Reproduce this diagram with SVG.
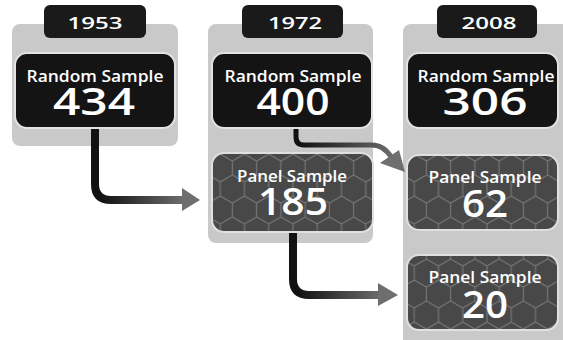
<svg xmlns="http://www.w3.org/2000/svg" width="563" height="340" viewBox="0 0 563 340">
<style>
.panel{fill:#c9c9c9}
.tab{fill:#1a1a1a}
.rbox{fill:#141414;stroke:#e2e2e2;stroke-width:2}
.pbox{stroke:#e0e0e0;stroke-width:2}
.lbl{font-family:"Open Sans","Liberation Sans",sans-serif;font-weight:600;fill:#fff;text-anchor:middle}
.yr{font-size:17px}
.cap{font-size:16.5px}
.num{font-size:37px}
.ah{fill:#6e6e6e}
</style>
<defs>
<pattern id="hex" patternUnits="userSpaceOnUse" width="24.25" height="42" x="2" y="0">
<rect width="24.25" height="42" fill="#484848"/>
<path d="M12.12,0 V7 L24.25,14 V28 L12.12,35 L0,28 V14 L12.12,7 M12.12,35 V42" fill="none" stroke="#747474" stroke-width="1.2"/>
</pattern>
<linearGradient id="g1" gradientUnits="userSpaceOnUse" x1="100" y1="0" x2="185" y2="0">
<stop offset="0" stop-color="#111"/><stop offset="1" stop-color="#6e6e6e"/>
</linearGradient>
<linearGradient id="g2" gradientUnits="userSpaceOnUse" x1="298" y1="0" x2="382" y2="0">
<stop offset="0" stop-color="#111"/><stop offset="1" stop-color="#6e6e6e"/>
</linearGradient>
<linearGradient id="g3" gradientUnits="userSpaceOnUse" x1="300" y1="0" x2="395" y2="0">
<stop offset="0" stop-color="#111"/><stop offset="1" stop-color="#6e6e6e"/>
</linearGradient>
</defs>
<rect width="563" height="340" fill="#fff"/>

<g id="col1953">
<rect class="panel" x="12" y="24" width="166" height="122" rx="8"/>
<rect class="tab" x="44" y="5" width="102" height="33" rx="6"/>
<text class="lbl yr" x="95" y="29" textLength="55" lengthAdjust="spacingAndGlyphs">1953</text>
</g>
<g id="col1972">
<rect class="panel" x="208" y="24" width="165" height="219" rx="8"/>
<rect class="tab" x="242" y="5" width="101" height="33" rx="6"/>
<text class="lbl yr" x="295" y="29" textLength="54" lengthAdjust="spacingAndGlyphs">1972</text>
</g>
<g id="col2008">
<rect class="panel" x="403" y="24" width="170" height="330" rx="8"/>
<rect class="tab" x="437" y="5" width="100" height="33" rx="6"/>
<text class="lbl yr" x="489" y="29" textLength="55" lengthAdjust="spacingAndGlyphs">2008</text>
</g>

<g id="connectors">
<path d="M95,128 V184 Q95,200 111,200 H184" fill="none" stroke="url(#g1)" stroke-width="8"/>
<polygon class="ah" points="182,188 200,200 182,211"/>
<path d="M293,232 V279 Q293,295 309,295 H380" fill="none" stroke="url(#g2)" stroke-width="8"/>
<polygon class="ah" points="378,283 398,295 378,306"/>
<path d="M296,128 V137 Q296,145 304,145 H372 Q384,145 392,158" fill="none" stroke="url(#g3)" stroke-width="5"/>
<polygon class="ah" points="380,163 399,150 405,172"/>
</g>

<g id="rs1953">
<rect class="rbox" x="15" y="53" width="160" height="75" rx="12"/>
<text class="lbl cap" x="95" y="82" textLength="137" lengthAdjust="spacingAndGlyphs">Random Sample</text>
<text class="lbl num" x="94" y="115" textLength="82" lengthAdjust="spacingAndGlyphs">434</text>
</g>
<g id="rs1972">
<rect class="rbox" x="212" y="53" width="160" height="75" rx="12"/>
<text class="lbl cap" x="293" y="82" textLength="137" lengthAdjust="spacingAndGlyphs">Random Sample</text>
<text class="lbl num" x="293" y="115" textLength="73" lengthAdjust="spacingAndGlyphs">400</text>
</g>
<g id="rs2008">
<rect class="rbox" x="407" y="53" width="151" height="75" rx="12"/>
<text class="lbl cap" x="486" y="82" textLength="137" lengthAdjust="spacingAndGlyphs">Random Sample</text>
<text class="lbl num" x="485" y="115" textLength="85" lengthAdjust="spacingAndGlyphs">306</text>
</g>
<g id="ps1972">
<rect class="pbox" x="212" y="153" width="161" height="79" rx="12" fill="url(#hex)"/>
<text class="lbl cap" x="292" y="182" textLength="110" lengthAdjust="spacingAndGlyphs">Panel Sample</text>
<text class="lbl num" x="293" y="215" textLength="70" lengthAdjust="spacingAndGlyphs">185</text>
</g>
<g id="ps2008a">
<rect class="pbox" x="407" y="155" width="151" height="75" rx="12" fill="url(#hex)"/>
<text class="lbl cap" x="485" y="183" textLength="113" lengthAdjust="spacingAndGlyphs">Panel Sample</text>
<text class="lbl num" x="485" y="217" textLength="46" lengthAdjust="spacingAndGlyphs">62</text>
</g>
<g id="ps2008b">
<rect class="pbox" x="407" y="255" width="151" height="75" rx="12" fill="url(#hex)"/>
<text class="lbl cap" x="485" y="283" textLength="113" lengthAdjust="spacingAndGlyphs">Panel Sample</text>
<text class="lbl num" x="485" y="318" textLength="46" lengthAdjust="spacingAndGlyphs">20</text>
</g>
</svg>
